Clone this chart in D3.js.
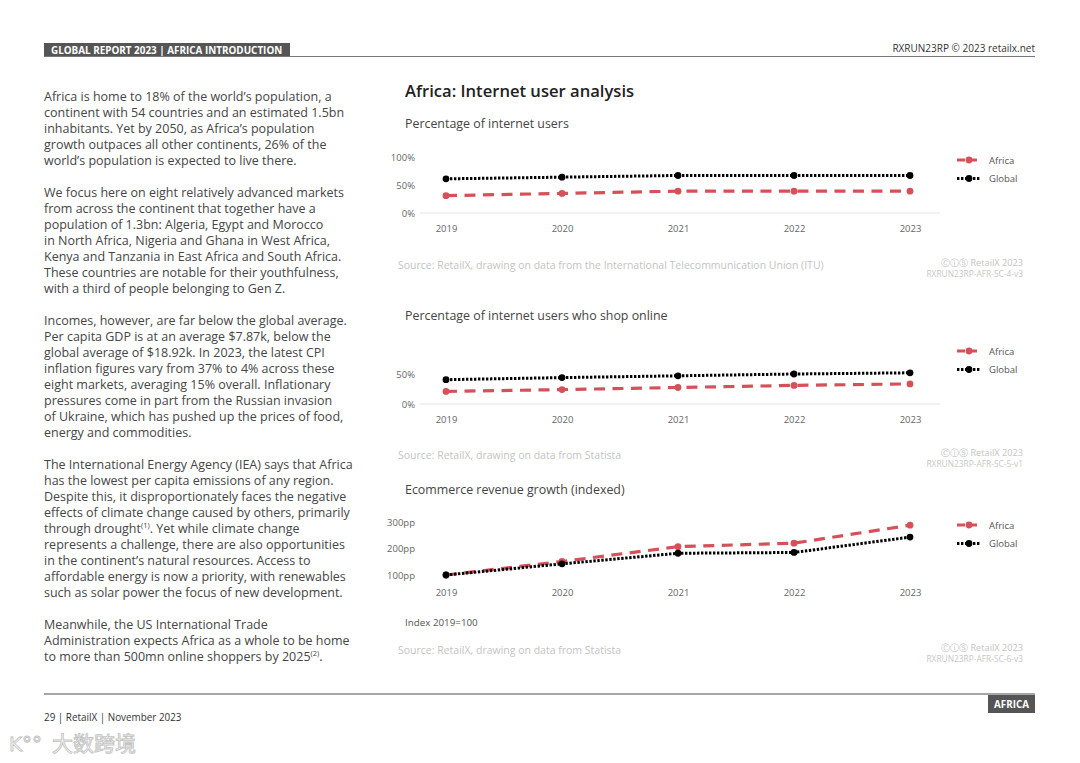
<!DOCTYPE html>
<html>
<head>
<meta charset="utf-8">
<script src="https://cdn.jsdelivr.net/npm/d3@7"></script>
<style>
  body { margin: 0; background: #fff; }
  svg { display: block; font-family: "Open Sans", sans-serif; }
</style>
</head>
<body>
<div id="page"></div>
<script>
// chart values
const years = [2019, 2020, 2021, 2022, 2023]

const usersAfrica = [31, 35, 39, 39, 39]
const usersGlobal = [61, 64, 67, 67, 67]

const shopAfrica = [21, 24, 27.5, 31, 33.5]
const shopGlobal = [40.5, 44, 47, 50, 52]

const growthAfrica = [100, 151, 207, 220, 288]
const growthGlobal = [100, 142, 182, 185, 243]

const usersTicks = [0, 50, 100]
const shopTicks = [0, 50]
const growthTicks = [100, 200, 300]

const seriesNames = ['Africa', 'Global']

const paragraphs = [
  ["Africa is home to 18% of the world\u2019s population, a",
   "continent with 54 countries and an estimated 1.5bn",
   "inhabitants. Yet by 2050, as Africa\u2019s population",
   "growth outpaces all other continents, 26% of the",
   "world\u2019s population is expected to live there."],
  ["We focus here on eight relatively advanced markets",
   "from across the continent that together have a",
   "population of 1.3bn: Algeria, Egypt and Morocco",
   "in North Africa, Nigeria and Ghana in West Africa,",
   "Kenya and Tanzania in East Africa and South Africa.",
   "These countries are notable for their youthfulness,",
   "with a third of people belonging to Gen Z."],
  ["Incomes, however, are far below the global average.",
   "Per capita GDP is at an average $7.87k, below the",
   "global average of $18.92k. In 2023, the latest CPI",
   "inflation figures vary from 37% to 4% across these",
   "eight markets, averaging 15% overall. Inflationary",
   "pressures come in part from the Russian invasion",
   "of Ukraine, which has pushed up the prices of food,",
   "energy and commodities."],
  ["The International Energy Agency (IEA) says that Africa",
   "has the lowest per capita emissions of any region.",
   "Despite this, it disproportionately faces the negative",
   "effects of climate change caused by others, primarily",
   "through drought|(1)|. Yet while climate change",
   "represents a challenge, there are also opportunities",
   "in the continent\u2019s natural resources. Access to",
   "affordable energy is now a priority, with renewables",
   "such as solar power the focus of new development."],
  ["Meanwhile, the US International Trade",
   "Administration expects Africa as a whole to be home",
   "to more than 500mn online shoppers by 2025|(2)|."]
]

const W = 1080, H = 763
const red = '#d6505a'
const black = '#000'

const svg = d3.select('#page').append('svg')
  .attr('width', W)
  .attr('height', H)

// page header
svg.append('rect').attr('x', 44).attr('y', 43).attr('width', 246).attr('height', 14).attr('fill', '#555')
svg.append('text').attr('x', 51).attr('y', 54)
  .attr('font-size', 9.9).attr('font-weight', 700).attr('fill', '#fff')
  .text('GLOBAL REPORT 2023 | AFRICA INTRODUCTION')
svg.append('line').attr('x1', 44).attr('x2', 1035).attr('y1', 56.5).attr('y2', 56.5)
  .attr('stroke', '#777').attr('stroke-width', 1.2)
svg.append('text').attr('x', 1035).attr('y', 51.5).attr('text-anchor', 'end')
  .attr('font-size', 10).attr('fill', '#333')
  .text('RXRUN23RP \u00a9 2023 retailx.net')

// body text
let lineY = 100.5
paragraphs.forEach(p => {
  p.forEach(line => {
    const t = svg.append('text').attr('x', 44).attr('y', lineY)
      .attr('font-size', 12.5).attr('fill', '#454545')
    line.split('|').forEach((part, i) => {
      const sp = t.append('tspan').text(part)
      if (i === 1) sp.attr('font-size', 7.5).attr('dy', -4.5)
      if (i === 2) sp.attr('dy', 4.5)
    })
    lineY += 16
  })
  lineY += 16
})

// chart heading
svg.append('text').attr('x', 405).attr('y', 97)
  .attr('font-size', 16.6).attr('font-weight', 600).attr('fill', '#222')
  .text('Africa: Internet user analysis')

const x = d3.scalePoint().domain(years).range([446, 910])

function drawChart(cfg) {
  const g = svg.append('g')
  const y = d3.scaleLinear().domain(cfg.domain).range(cfg.range)

  g.append('text').attr('x', 405).attr('y', cfg.titleY)
    .attr('font-size', 12.4).attr('fill', '#444').text(cfg.title)

  if (cfg.baseline) {
    g.append('line').attr('x1', 420).attr('x2', 940)
      .attr('y1', y(0)).attr('y2', y(0))
      .attr('stroke', '#ececec').attr('stroke-width', 1.5)
  }

  const yAxis = d3.axisLeft(y).tickValues(cfg.ticks).tickSize(0).tickPadding(0)
    .tickFormat(d => d + cfg.suffix)
  const ya = g.append('g').attr('transform', 'translate(415,0)').call(yAxis)
  ya.select('.domain').remove()
  ya.selectAll('text').attr('font-size', 9.5).attr('fill', '#666')
    .attr('font-family', '"Open Sans", sans-serif')

  const xAxis = d3.axisBottom(x).tickSize(0).tickPadding(0)
  const xa = g.append('g').attr('transform', `translate(0,${cfg.xLabelY})`).call(xAxis)
  xa.select('.domain').remove()
  xa.selectAll('text').attr('font-size', 9.5).attr('fill', '#666')
    .attr('font-family', '"Open Sans", sans-serif')

  const line = d3.line().x((d, i) => x(years[i])).y(d => y(d))

  const series = [
    { name: seriesNames[0], values: cfg.africa, color: red, dash: '11,7.5', width: 3.2 },
    { name: seriesNames[1], values: cfg.global, color: black, dash: '2.4,1.6', width: 3 }
  ]

  series.forEach(s => {
    g.append('path').datum(s.values)
      .attr('d', line)
      .attr('fill', 'none')
      .attr('stroke', s.color)
      .attr('stroke-width', s.width)
      .attr('stroke-dasharray', s.dash)
    g.selectAll(null).data(s.values).enter().append('circle')
      .attr('cx', (d, i) => x(years[i]))
      .attr('cy', d => y(d))
      .attr('r', 3.4)
      .attr('fill', s.color)
  })

  // legend
  series.forEach((s, i) => {
    const ly = cfg.legendY + i * 18.5
    g.append('line').attr('x1', 957).attr('x2', 981).attr('y1', ly).attr('y2', ly)
      .attr('stroke', s.color).attr('stroke-width', s.width)
      .attr('stroke-dasharray', i === 0 ? '8,4' : '2.4,1.6')
    g.append('circle').attr('cx', 969).attr('cy', ly).attr('r', 3.4).attr('fill', s.color)
    g.append('text').attr('x', 989).attr('y', ly + 3.5)
      .attr('font-size', 9.5).attr('fill', '#555').text(s.name)
  })

  if (cfg.note) {
    g.append('text').attr('x', 405).attr('y', cfg.noteY)
      .attr('font-size', 9.8).attr('fill', '#555').text(cfg.note)
  }

  g.append('text').attr('x', 398).attr('y', cfg.sourceY)
    .attr('font-size', 10.5).attr('fill', '#c4c4c4').text(cfg.source)
  g.append('text').attr('x', 1023).attr('y', cfg.sourceY - 3)
    .attr('text-anchor', 'end')
    .attr('font-size', 9.2).attr('fill', '#c4c4c4').text('\u24b8\u24d8\u24c8  RetailX 2023')
  g.append('text').attr('x', 1023).attr('y', cfg.sourceY + 8.8).attr('text-anchor', 'end')
    .attr('font-size', 8.4).attr('fill', '#c8c8c8').text(cfg.code)
}

drawChart({
  title: 'Percentage of internet users', titleY: 128,
  domain: [0, 100], range: [213, 157], ticks: usersTicks, suffix: '%',
  baseline: true, xLabelY: 225,
  africa: usersAfrica, global: usersGlobal, legendY: 160,
  source: 'Source: RetailX, drawing on data from the International Telecommunication Union (ITU)',
  sourceY: 268.5, code: 'RXRUN23RP-AFR-SC-4-v3'
})

drawChart({
  title: 'Percentage of internet users who shop online', titleY: 320,
  domain: [0, 50], range: [404, 374], ticks: shopTicks, suffix: '%',
  baseline: true, xLabelY: 416,
  africa: shopAfrica, global: shopGlobal, legendY: 351,
  source: 'Source: RetailX, drawing on data from Statista',
  sourceY: 458.5, code: 'RXRUN23RP-AFR-SC-5-v1'
})

drawChart({
  title: 'Ecommerce revenue growth (indexed)', titleY: 494,
  domain: [100, 300], range: [575, 522], ticks: growthTicks, suffix: 'pp',
  baseline: false, xLabelY: 589,
  africa: growthAfrica, global: growthGlobal, legendY: 525,
  note: 'Index 2019=100', noteY: 626,
  source: 'Source: RetailX, drawing on data from Statista',
  sourceY: 653.5, code: 'RXRUN23RP-AFR-SC-6-v3'
})

// footer
svg.append('line').attr('x1', 44).attr('x2', 1035).attr('y1', 694).attr('y2', 694)
  .attr('stroke', '#888').attr('stroke-width', 1.6)
svg.append('rect').attr('x', 988).attr('y', 695).attr('width', 47).attr('height', 18).attr('fill', '#555')
svg.append('text').attr('x', 1011.5).attr('y', 708).attr('text-anchor', 'middle')
  .attr('font-size', 9.8).attr('font-weight', 700).attr('fill', '#fff').text('AFRICA')
svg.append('text').attr('x', 44).attr('y', 720.5)
  .attr('font-size', 9.9).attr('fill', '#333').text('29 | RetailX | November 2023')

// watermark
svg.append('text').attr('x', 9).attr('y', 751)
  .attr('font-size', 20).attr('font-family', '"DejaVu Sans", sans-serif')
  .attr('fill', '#fff').attr('stroke', '#c4c4c4').attr('stroke-width', 0.9)
  .text('K\u00b0\u00b0')
svg.append('text').attr('x', 52).attr('y', 751)
  .attr('font-size', 21).attr('font-family', '"Noto Sans CJK SC", sans-serif')
  .attr('fill', '#fff').attr('stroke', '#c4c4c4').attr('stroke-width', 0.9)
  .text('\u5927\u6570\u8de8\u5883')
</script>
</body>
</html>
